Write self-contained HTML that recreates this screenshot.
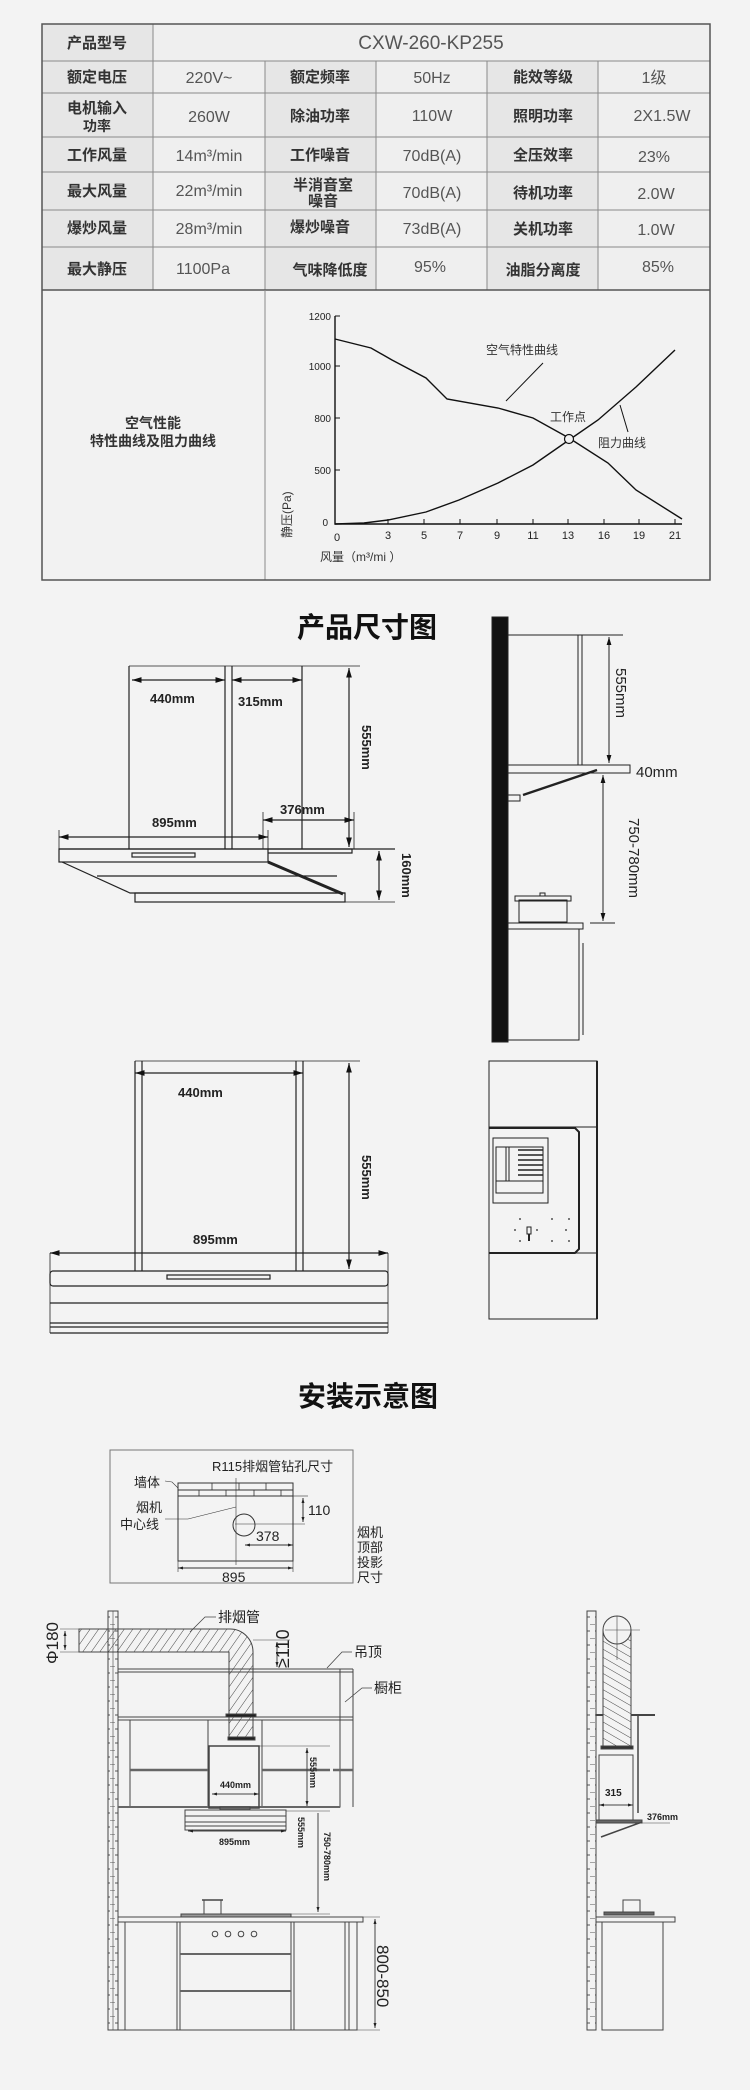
<!DOCTYPE html>
<html><head><meta charset="utf-8"><style>
html,body{margin:0;padding:0;background:#f3f3f3;}
svg{display:block;}
text{font-family:"Liberation Sans","Noto Sans CJK SC",sans-serif;}
.lb{font-size:15px;font-weight:bold;fill:#333;}
.v{font-size:16px;fill:#555;}
.d{font-size:13px;font-weight:bold;fill:#222;}
.s{font-size:10px;fill:#222;}
</style></head><body>
<svg width="750" height="2090" viewBox="0 0 750 2090" xmlns="http://www.w3.org/2000/svg">
<defs>
<marker id="a" viewBox="0 0 10 10" refX="10" refY="5" markerWidth="8" markerHeight="8" orient="auto-start-reverse"><path d="M0,2 L10,5 L0,8 z" fill="#111"/></marker>
<marker id="sa" viewBox="0 0 10 10" refX="10" refY="5" markerWidth="5" markerHeight="5" orient="auto-start-reverse"><path d="M0,2 L10,5 L0,8 z" fill="#222"/></marker>
<pattern id="h" width="7" height="7" patternUnits="userSpaceOnUse" patternTransform="rotate(35)"><line x1="0" y1="0" x2="0" y2="7" stroke="#444" stroke-width="1"/></pattern>
<pattern id="hv" width="7" height="7" patternUnits="userSpaceOnUse" patternTransform="rotate(-60)"><line x1="0" y1="0" x2="0" y2="7" stroke="#444" stroke-width="1"/></pattern>
<pattern id="br" width="10" height="14" patternUnits="userSpaceOnUse"><line x1="0" y1="0" x2="5" y2="0" stroke="#555"/><line x1="5" y1="7" x2="10" y2="7" stroke="#555"/></pattern>
</defs>
<rect width="750" height="2090" fill="#f3f3f3"/>

<!-- TABLE -->
<g stroke="#8a8a8a" stroke-width="1">
<rect x="42" y="24" width="668" height="556" fill="#f2f2f2"/>
<rect x="42" y="24" width="111" height="37" fill="#e6e6e6"/>
<rect x="153" y="24" width="557" height="37" fill="#efefef"/>
<g fill="#e6e6e6">
<rect x="42" y="61" width="111" height="229"/><rect x="265" y="61" width="111" height="229"/><rect x="487" y="61" width="111" height="229"/>
</g>
<g fill="#efefef">
<rect x="153" y="61" width="112" height="229"/><rect x="376" y="61" width="111" height="229"/><rect x="598" y="61" width="112" height="229"/>
</g>
<line x1="42" y1="93" x2="710" y2="93"/><line x1="42" y1="137" x2="710" y2="137"/><line x1="42" y1="172" x2="710" y2="172"/><line x1="42" y1="210" x2="710" y2="210"/><line x1="42" y1="247" x2="710" y2="247"/>
<line x1="42" y1="290" x2="710" y2="290" stroke="#555" stroke-width="1.5"/>
<line x1="265" y1="290" x2="265" y2="580"/>
<rect x="42" y="24" width="668" height="556" fill="none" stroke="#555" stroke-width="1.5"/>
</g>
<g text-anchor="middle">
<text class="lb" x="97" y="48">产品型号</text>
<text class="v" x="431" y="49" style="font-size:19px">CXW-260-KP255</text>
<text class="lb" x="97" y="82">额定电压</text><text class="v" x="209" y="83">220V~</text><text class="lb" x="320" y="82">额定频率</text><text class="v" x="432" y="83">50Hz</text><text class="lb" x="543" y="82">能效等级</text><text class="v" x="654" y="83">1级</text>
<text class="lb" x="97" y="113">电机输入</text><text class="lb" x="97" y="131" style="font-size:14px">功率</text><text class="v" x="209" y="122">260W</text><text class="lb" x="320" y="121">除油功率</text><text class="v" x="432" y="121">110W</text><text class="lb" x="543" y="121">照明功率</text><text class="v" x="662" y="121">2X1.5W</text>
<text class="lb" x="97" y="160">工作风量</text><text class="v" x="209" y="161">14m³/min</text><text class="lb" x="320" y="160">工作噪音</text><text class="v" x="432" y="161">70dB(A)</text><text class="lb" x="543" y="160">全压效率</text><text class="v" x="654" y="162">23%</text>
<text class="lb" x="97" y="196">最大风量</text><text class="v" x="209" y="196">22m³/min</text><text class="lb" x="323" y="190">半消音室</text><text class="lb" x="323" y="206">噪音</text><text class="v" x="432" y="198">70dB(A)</text><text class="lb" x="543" y="198">待机功率</text><text class="v" x="656" y="199">2.0W</text>
<text class="lb" x="97" y="233">爆炒风量</text><text class="v" x="209" y="234">28m³/min</text><text class="lb" x="320" y="232">爆炒噪音</text><text class="v" x="432" y="234">73dB(A)</text><text class="lb" x="543" y="234">关机功率</text><text class="v" x="656" y="235">1.0W</text>
<text class="lb" x="97" y="274">最大静压</text><text class="v" x="203" y="274">1100Pa</text><text class="lb" x="330" y="275">气味降低度</text><text class="v" x="430" y="272">95%</text><text class="lb" x="543" y="275">油脂分离度</text><text class="v" x="658" y="272">85%</text>
<text class="lb" x="153" y="428" style="font-size:14px">空气性能</text>
<text class="lb" x="153" y="446" style="font-size:14px">特性曲线及阻力曲线</text>
</g>

<!-- CHART -->
<g stroke="#111" fill="none" stroke-width="1.4">
<polyline points="335,316 335,524 682,524"/>
<g stroke-width="1"><line x1="335" y1="316" x2="340" y2="316"/><line x1="335" y1="366" x2="340" y2="366"/><line x1="335" y1="418" x2="340" y2="418"/><line x1="335" y1="470" x2="340" y2="470"/>
<line x1="388" y1="524" x2="388" y2="519"/><line x1="424" y1="524" x2="424" y2="519"/><line x1="460" y1="524" x2="460" y2="519"/><line x1="497" y1="524" x2="497" y2="519"/><line x1="533" y1="524" x2="533" y2="519"/><line x1="568" y1="524" x2="568" y2="519"/><line x1="604" y1="524" x2="604" y2="519"/><line x1="639" y1="524" x2="639" y2="519"/><line x1="675" y1="524" x2="675" y2="519"/></g>
<polyline points="335,339 371,348 392,360 426,378 447,399 498,408 533,418 569,438 608,463 636,490 682,519"/>
<polyline points="335,524 364,523 388,520 426,512 459,500 498,483 533,465 569,440 598,420 636,387 675,350"/>
<circle cx="569" cy="439" r="4.5" fill="#f2f2f2" stroke-width="1.2"/>
<line x1="543" y1="363" x2="506" y2="401" stroke-width="1"/>
<line x1="620" y1="405" x2="628" y2="432" stroke-width="1"/>
</g>
<g font-size="10" fill="#222" text-anchor="end"><text x="331" y="320">1200</text><text x="331" y="370">1000</text><text x="331" y="422">800</text><text x="331" y="474">500</text><text x="328" y="526">0</text></g>
<g font-size="11" fill="#222" text-anchor="middle"><text x="337" y="541">0</text><text x="388" y="539">3</text><text x="424" y="539">5</text><text x="460" y="539">7</text><text x="497" y="539">9</text><text x="533" y="539">11</text><text x="568" y="539">13</text><text x="604" y="539">16</text><text x="639" y="539">19</text><text x="675" y="539">21</text></g>
<g font-size="12" fill="#333"><text x="486" y="354">空气特性曲线</text><text x="550" y="421">工作点</text><text x="598" y="447">阻力曲线</text>
<text x="320" y="561">风量（m³/mi ）</text>
<text transform="translate(291,538) rotate(-90)">静压(Pa)</text></g>

<!-- 产品尺寸图 -->
<text x="297" y="637" font-size="28" font-weight="bold" fill="#111">产品尺寸图</text>
<g stroke="#222" fill="none" stroke-width="1.2">
<line x1="129" y1="666" x2="360" y2="666" stroke-width="0.8"/>
<line x1="129" y1="666" x2="129" y2="849"/><line x1="225" y1="666" x2="225" y2="849"/><line x1="232" y1="666" x2="232" y2="849"/><line x1="302" y1="666" x2="302" y2="849"/>
<line x1="132" y1="680" x2="225" y2="680" marker-start="url(#a)" marker-end="url(#a)"/>
<line x1="232" y1="680" x2="302" y2="680" marker-start="url(#a)" marker-end="url(#a)"/>
<line x1="349" y1="668" x2="349" y2="847" marker-start="url(#a)" marker-end="url(#a)"/>
<line x1="263" y1="820" x2="354" y2="820" marker-start="url(#a)" marker-end="url(#a)"/>
<line x1="263" y1="812" x2="263" y2="849" stroke-width="0.8"/><line x1="354" y1="812" x2="354" y2="849" stroke-width="0.8"/>
<line x1="59" y1="837" x2="268" y2="837" marker-start="url(#a)" marker-end="url(#a)"/>
<line x1="59" y1="830" x2="59" y2="849" stroke-width="0.8"/><line x1="268" y1="830" x2="268" y2="849" stroke-width="0.8"/>
<line x1="59" y1="849" x2="395" y2="849"/>
<rect x="59" y="849" width="209" height="13"/>
<rect x="132" y="853" width="63" height="4"/>
<polyline points="62,862 130,893 345,893"/>
<line x1="97" y1="876" x2="337" y2="876"/>
<rect x="135" y="893" width="210" height="9"/>
<polyline points="268,849 352,849 352,853 268,853"/>
<line x1="268" y1="862" x2="343" y2="894" stroke-width="3"/>
<line x1="345" y1="902" x2="395" y2="902" stroke-width="0.8"/>
<line x1="379" y1="851" x2="379" y2="900" marker-start="url(#a)" marker-end="url(#a)"/>
</g>
<g class="d" font-size="14"><text class="d" x="150" y="703">440mm</text><text class="d" x="238" y="706">315mm</text><text class="d" x="280" y="814">376mm</text><text class="d" x="152" y="827">895mm</text></g>
<text class="d" transform="translate(362,725) rotate(90)">555mm</text>
<text class="d" transform="translate(402,853) rotate(90)">160mm</text>

<!-- side view 1 -->
<g stroke="#222" fill="none" stroke-width="1">
<rect x="492" y="617" width="16" height="425" fill="#111"/>
<line x1="508" y1="635" x2="623" y2="635"/>
<line x1="578" y1="635" x2="578" y2="765"/><line x1="582" y1="635" x2="582" y2="765"/>
<line x1="609" y1="637" x2="609" y2="763" marker-start="url(#a)" marker-end="url(#a)"/>
<rect x="508" y="765" width="122" height="8" fill="#f3f3f3"/>
<line x1="597" y1="770" x2="523" y2="795" stroke-width="2.5"/>
<rect x="508" y="795" width="12" height="6"/>
<line x1="603" y1="775" x2="603" y2="921" marker-start="url(#a)" marker-end="url(#a)"/>
<line x1="590" y1="923" x2="615" y2="923"/>
<rect x="519" y="900" width="48" height="22"/><rect x="515" y="896" width="56" height="5"/><rect x="540" y="893" width="5" height="3"/>
<rect x="508" y="923" width="75" height="6"/>
<rect x="508" y="929" width="71" height="111"/>
<line x1="583" y1="943" x2="583" y2="1035"/>
</g>
<text class="d" x="636" y="777" style="font-weight:normal;font-size:15px">40mm</text>
<text class="d" transform="translate(616,668) rotate(90)" style="font-weight:normal;font-size:15px">555mm</text>
<text class="d" transform="translate(629,818) rotate(90)" style="font-weight:normal;font-size:15px">750-780mm</text>

<!-- front view 2 -->
<g stroke="#222" fill="none" stroke-width="1.2">
<line x1="135" y1="1061" x2="360" y2="1061" stroke-width="0.8"/>
<line x1="135" y1="1061" x2="135" y2="1271"/><line x1="142" y1="1061" x2="142" y2="1271"/><line x1="296" y1="1061" x2="296" y2="1271"/><line x1="303" y1="1061" x2="303" y2="1271"/>
<line x1="135" y1="1073" x2="303" y2="1073" marker-start="url(#a)" marker-end="url(#a)"/>
<line x1="349" y1="1063" x2="349" y2="1269" marker-start="url(#a)" marker-end="url(#a)"/>
<line x1="50" y1="1253" x2="388" y2="1253" marker-start="url(#a)" marker-end="url(#a)"/>
<line x1="50" y1="1253" x2="50" y2="1333" stroke-width="0.8"/><line x1="388" y1="1253" x2="388" y2="1333" stroke-width="0.8"/>
<rect x="50" y="1271" width="338" height="15" rx="3"/>
<rect x="167" y="1275" width="103" height="4"/>
<line x1="50" y1="1303" x2="388" y2="1303"/><line x1="50" y1="1323" x2="388" y2="1323"/><line x1="50" y1="1327" x2="388" y2="1327"/><line x1="50" y1="1333" x2="388" y2="1333"/>
</g>
<text class="d" x="178" y="1097">440mm</text><text class="d" x="193" y="1244">895mm</text>
<text class="d" transform="translate(362,1155) rotate(90)">555mm</text>

<!-- side view 2 -->
<g stroke="#222" fill="none" stroke-width="1">
<rect x="489" y="1061" width="108" height="258"/>
<line x1="597" y1="1061" x2="597" y2="1319" stroke-width="2"/>
<line x1="489" y1="1127" x2="597" y2="1127"/><line x1="489" y1="1253" x2="597" y2="1253"/>
<path d="M489,1128 L575,1128 L579,1132 L579,1249 L575,1253 L489,1253" stroke-width="2"/>
<rect x="493" y="1138" width="55" height="65"/>
<rect x="496" y="1147" width="47" height="46"/>
<line x1="496" y1="1181" x2="543" y2="1181"/>
<line x1="506" y1="1147" x2="506" y2="1181"/><line x1="509" y1="1147" x2="509" y2="1181"/>
<g stroke-width="1.5"><line x1="518" y1="1150" x2="543" y2="1150"/><line x1="518" y1="1155" x2="543" y2="1155"/><line x1="518" y1="1160" x2="543" y2="1160"/><line x1="518" y1="1165" x2="543" y2="1165"/><line x1="518" y1="1170" x2="543" y2="1170"/><line x1="518" y1="1175" x2="543" y2="1175"/></g>
<rect x="527" y="1227" width="4" height="7"/><line x1="529" y1="1234" x2="529" y2="1241" stroke-width="2"/>
</g>
<g fill="#222"><circle cx="520" cy="1219" r="0.9"/><circle cx="552" cy="1219" r="0.9"/><circle cx="569" cy="1219" r="0.9"/><circle cx="515" cy="1230" r="0.9"/><circle cx="537" cy="1230" r="0.9"/><circle cx="566" cy="1230" r="0.9"/><circle cx="520" cy="1241" r="0.9"/><circle cx="552" cy="1241" r="0.9"/><circle cx="569" cy="1241" r="0.9"/></g>

<!-- 安装示意图 -->
<text x="298" y="1406" font-size="28" font-weight="bold" fill="#111">安装示意图</text>
<g stroke="#333" fill="none" stroke-width="1">
<rect x="110" y="1450" width="243" height="133" stroke="#777"/>
<rect x="178" y="1483" width="115" height="13"/>
<line x1="178" y1="1490" x2="293" y2="1490"/>
<g stroke-width="0.8"><line x1="212" y1="1483" x2="212" y2="1490"/><line x1="239" y1="1483" x2="239" y2="1490"/><line x1="266" y1="1483" x2="266" y2="1490"/><line x1="199" y1="1490" x2="199" y2="1496"/><line x1="226" y1="1490" x2="226" y2="1496"/><line x1="254" y1="1490" x2="254" y2="1496"/><line x1="281" y1="1490" x2="281" y2="1496"/></g>
<rect x="178" y="1496" width="115" height="65"/>
<line x1="236" y1="1478" x2="236" y2="1565" stroke-width="0.6"/>
<circle cx="244" cy="1525" r="11"/>
<line x1="235" y1="1524" x2="305" y2="1524" stroke-width="0.6"/>
<line x1="293" y1="1496" x2="308" y2="1496" stroke-width="0.6"/>
<line x1="303" y1="1498" x2="303" y2="1522" marker-start="url(#sa)" marker-end="url(#sa)"/>
<line x1="245" y1="1545" x2="293" y2="1545" marker-start="url(#sa)" marker-end="url(#sa)"/>
<line x1="178" y1="1568" x2="293" y2="1568" marker-start="url(#sa)" marker-end="url(#sa)"/>
<line x1="178" y1="1561" x2="178" y2="1572" stroke-width="0.6"/><line x1="293" y1="1561" x2="293" y2="1572" stroke-width="0.6"/>
<polyline points="165,1481 172,1482 178,1488" stroke-width="0.6"/>
<polyline points="165,1519 188,1519 236,1507" stroke-width="0.6"/>
</g>
<g font-size="13" fill="#222"><text x="212" y="1471">R115排烟管钻孔尺寸</text>
<text x="134" y="1487">墙体</text><text x="136" y="1512">烟机</text><text x="120" y="1529">中心线</text>
<text x="308" y="1515" font-size="14">110</text><text x="256" y="1541" font-size="14">378</text><text x="222" y="1582" font-size="14">895</text>
<text x="357" y="1537">烟机</text><text x="357" y="1552">顶部</text><text x="357" y="1567">投影</text><text x="357" y="1582">尺寸</text></g>

<!-- install main -->
<g stroke="#444" fill="none" stroke-width="1">
<rect x="108" y="1611" width="10" height="419" fill="url(#br)"/>
<line x1="113" y1="1611" x2="113" y2="2030" stroke-width="0.6"/>
<path d="M79,1629 L230,1629 A23,23 0 0 1 253,1652 L253,1740 L229,1740 L229,1652 L79,1652 Z" fill="url(#h)"/>
<rect x="226" y="1714" width="30" height="3" fill="#222"/><rect x="228" y="1737" width="27" height="3" fill="#222"/>
<line x1="60" y1="1629" x2="79" y2="1629" stroke-width="0.6"/><line x1="60" y1="1652" x2="79" y2="1652" stroke-width="0.6"/>
<line x1="65" y1="1631" x2="65" y2="1650" marker-start="url(#sa)" marker-end="url(#sa)"/>
<polyline points="190,1632 205,1617 216,1617" stroke-width="0.8"/>
<line x1="253" y1="1640" x2="290" y2="1640" stroke-width="0.6"/>
<line x1="277" y1="1642" x2="277" y2="1667" marker-start="url(#sa)" marker-end="url(#sa)"/>
<line x1="118" y1="1669" x2="353" y2="1669"/><line x1="118" y1="1672" x2="353" y2="1672"/>
<line x1="353" y1="1669" x2="353" y2="1807"/><line x1="340" y1="1669" x2="340" y2="1807"/>
<polyline points="327,1668 342,1652 352,1652" stroke-width="0.8"/>
<polyline points="345,1702 362,1688 372,1688" stroke-width="0.8"/>
<line x1="118" y1="1717" x2="353" y2="1717"/><line x1="118" y1="1720" x2="353" y2="1720"/>
<rect x="130" y="1720" width="78" height="87"/><rect x="262" y="1720" width="78" height="87"/>
<line x1="130" y1="1770" x2="208" y2="1770" stroke-width="2.5" stroke="#666"/><line x1="262" y1="1770" x2="330" y2="1770" stroke-width="2.5" stroke="#666"/><line x1="333" y1="1770" x2="353" y2="1770" stroke-width="2.5" stroke="#666"/>
<line x1="118" y1="1807" x2="340" y2="1807" stroke-width="2" stroke="#666"/>
<rect x="209" y="1746" width="50" height="62" stroke-width="1.5"/>
<line x1="212" y1="1794" x2="259" y2="1794" marker-start="url(#sa)" marker-end="url(#sa)"/>
<line x1="259" y1="1746" x2="330" y2="1746" stroke-width="0.6"/>
<line x1="307" y1="1748" x2="307" y2="1806" marker-start="url(#sa)" marker-end="url(#sa)"/>
<rect x="185" y="1810" width="101" height="20"/>
<line x1="185" y1="1816" x2="286" y2="1816"/><line x1="185" y1="1822" x2="286" y2="1822"/><line x1="185" y1="1826" x2="286" y2="1826"/>
<rect x="220" y="1807" width="30" height="3" fill="#666"/>
<line x1="188" y1="1831" x2="286" y2="1831" marker-start="url(#sa)" marker-end="url(#sa)"/>
<line x1="286" y1="1811" x2="330" y2="1811" stroke-width="0.6"/>
<line x1="318" y1="1813" x2="318" y2="1912" marker-end="url(#sa)"/>
<line x1="291" y1="1914" x2="330" y2="1914" stroke-width="0.6"/>
<rect x="181" y="1914" width="110" height="3" fill="#999"/>
<rect x="204" y="1900" width="17" height="14"/><line x1="202" y1="1900" x2="223" y2="1900" stroke-width="1.5"/>
<rect x="118" y="1917" width="245" height="5"/>
<rect x="118" y="1922" width="239" height="108"/>
<line x1="125" y1="1922" x2="125" y2="2030"/><line x1="177" y1="1922" x2="177" y2="2030"/><line x1="180" y1="1922" x2="180" y2="2030"/><line x1="291" y1="1922" x2="291" y2="2030"/><line x1="294" y1="1922" x2="294" y2="2030"/><line x1="345" y1="1922" x2="345" y2="2030"/><line x1="349" y1="1922" x2="349" y2="2030"/>
<line x1="180" y1="1954" x2="291" y2="1954" stroke-width="2" stroke="#666"/><line x1="180" y1="1991" x2="291" y2="1991" stroke-width="2" stroke="#666"/>
<circle cx="215" cy="1934" r="2.8"/><circle cx="228" cy="1934" r="2.8"/><circle cx="241" cy="1934" r="2.8"/><circle cx="254" cy="1934" r="2.8"/>
<line x1="357" y1="1917" x2="380" y2="1917" stroke-width="0.6"/><line x1="357" y1="2030" x2="380" y2="2030" stroke-width="0.6"/>
<line x1="375" y1="1919" x2="375" y2="2028" marker-start="url(#sa)" marker-end="url(#sa)"/>
</g>
<g fill="#222">
<text x="218" y="1622" font-size="14">排烟管</text>
<text x="354" y="1657" font-size="14">吊顶</text>
<text x="374" y="1693" font-size="14">橱柜</text>
<text transform="translate(58,1622) rotate(-90)" text-anchor="end" font-size="17">Φ180</text>
<text transform="translate(289,1668) rotate(-90)" font-size="18">≥110</text>
<text x="220" y="1788" font-size="9" font-weight="bold">440mm</text>
<text transform="translate(310,1757) rotate(90)" font-size="9" font-weight="bold">555mm</text>
<text transform="translate(298,1817) rotate(90)" font-size="9" font-weight="bold">555mm</text>
<text x="219" y="1845" font-size="9" font-weight="bold">895mm</text>
<text transform="translate(324,1832) rotate(90)" font-size="9" font-weight="bold">750-780mm</text>
<text transform="translate(377,1945) rotate(90)" font-size="17">800-850</text>
</g>

<!-- install side -->
<g stroke="#444" fill="none" stroke-width="1">
<rect x="587" y="1611" width="9" height="419" fill="url(#br)"/>
<rect x="603" y="1630" width="28" height="117" fill="url(#hv)"/>
<circle cx="617" cy="1630" r="14" fill="#f3f3f3"/>
<line x1="605" y1="1630" x2="640" y2="1630" stroke-width="0.6"/><line x1="617" y1="1616" x2="617" y2="1660" stroke-width="0.6"/>
<rect x="601" y="1746" width="32" height="3" fill="#333"/>
<line x1="596" y1="1715" x2="603" y2="1715" stroke-width="2"/><line x1="631" y1="1715" x2="655" y2="1715" stroke-width="2"/>
<line x1="638" y1="1715" x2="638" y2="1813" stroke-width="1.5"/>
<rect x="599" y="1755" width="34" height="65"/>
<line x1="599" y1="1805" x2="633" y2="1805" marker-start="url(#sa)" marker-end="url(#sa)"/>
<rect x="596" y="1820" width="46" height="3" fill="#666"/>
<line x1="642" y1="1822" x2="601" y2="1837" stroke-width="1.5"/>
<line x1="642" y1="1823" x2="670" y2="1823" stroke-width="0.6"/>
<rect x="623" y="1900" width="17" height="12"/>
<rect x="604" y="1912" width="50" height="3" fill="#666"/>
<rect x="596" y="1917" width="79" height="5"/>
<rect x="602" y="1922" width="61" height="108"/>
</g>
<g fill="#222" font-size="9" font-weight="bold"><text x="605" y="1796" font-size="10">315</text><text x="647" y="1820">376mm</text></g>
</svg>
</body></html>
